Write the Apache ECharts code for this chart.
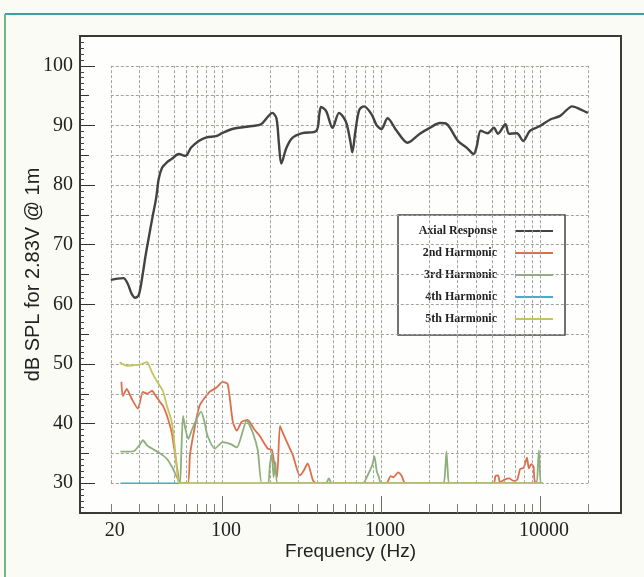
<!DOCTYPE html>
<html><head><meta charset="utf-8">
<script src="https://cdn.jsdelivr.net/npm/echarts@6/dist/echarts.min.js"></script>
<style>html,body{margin:0;padding:0;background:#fbfbf6}#c{width:644px;height:577px}</style>
</head><body><div id="c"></div>
<script>
// ---- data (frequency Hz, dB SPL) ----
const axialResponse = [[20,64.1],[22,64.3],[24,64.4],[25.5,63.5],[27,61.8],[28.5,61.1],[30,61.6],[31.5,64.5],[33,68],[34.7,71.3],[36.5,74.5],[38.6,77.9],[40,81],[42,82.9],[45,83.8],[48.4,84.4],[53.5,85.2],[59,84.9],[64,86.3],[71.5,87.4],[80,88],[91.8,88.2],[100,88.7],[116,89.4],[135,89.7],[155,89.9],[176,90.2],[195,91.5],[207,92.1],[220,91.2],[228,87],[236,83.6],[254,86.2],[277,87.9],[320,88.7],[392,89.1],[410,92],[420,93.1],[452,92.4],[496,89.6],[545,92.1],[600,90.7],[640,87.5],[660,85.5],[690,89],[730,92.6],[782,93.2],[871,91.9],[940,90],[1006,89.4],[1100,91.2],[1254,89.1],[1470,87.1],[1755,88.6],[2000,89.5],[2350,90.4],[2600,90.2],[3050,87.4],[3480,86.2],[3820,85.2],[4000,86.5],[4240,89.1],[4690,88.7],[5130,89.6],[5440,88.6],[6060,90.2],[6390,88.6],[7150,88.7],[7840,87.4],[8630,89.1],[9990,89.9],[11600,91],[13400,91.6],[15950,93.2],[17900,92.7],[20000,92.1]];
const harmonic2 = [[23.3,47],[23.8,44.6],[25.2,45.8],[27,44.2],[29.6,42.5],[31.8,45.3],[33.9,45],[36.3,45.5],[38,44.8],[40.8,43.6],[42.5,43],[45,41.4],[48.3,38.5],[50.6,35],[52.6,32],[54.5,30],[61,30],[62.9,34.7],[67,39],[72.3,43],[83.5,45.3],[92,46],[101,47],[108.7,46.6],[117,40.3],[124,38.8],[133,40.3],[145,40.6],[160,39],[172,38],[194,35.8],[206,35.6],[214,33],[222,31],[231.5,39.6],[240,38.6],[255,37],[279,34.7],[308,31.3],[325,32],[346,33.3],[373,30.5],[390,30],[1080,30],[1150,31.2],[1200,31],[1280,31.8],[1350,31.2],[1420,30],[5100,30],[5250,31.2],[5450,31.3],[5600,30.2],[6000,30.6],[6400,30.8],[6800,30.4],[7200,30.6],[7500,32.4],[7900,32.6],[8280,34.3],[8500,32.5],[8800,33.2],[9100,32.8],[9300,30.2],[10400,30]];
const harmonic3 = [[23,35.3],[25,35.3],[28,35.4],[30.5,36.5],[31.8,37.2],[33.9,36.3],[36.3,35.8],[40.8,35],[45,34.1],[49,32.5],[52,31],[54.4,30],[55.5,35],[56.9,41.3],[59,39],[61.4,37.4],[64.8,39],[70,41],[74,42],[78,40],[81,38],[90.3,35.8],[101,36.9],[112.5,36.6],[124,36],[143,40.5],[156,38.5],[168,35.5],[178,30],[195,30],[200,33],[206,35],[211,31],[217,33.5],[224,30],[450,30],[470,30.8],[490,30],[770,30],[830,31.5],[880,33],[910,34.5],[940,32],[970,31],[1000,30],[2450,30],[2530,32],[2580,35.3],[2630,32],[2700,30],[9400,30],[9700,33],[9850,35.5],[9950,33],[10100,30],[10400,30]];
const harmonic4 = [[23,30],[10400,30]];
const harmonic5 = [[22.7,50.3],[25.2,49.7],[28,49.8],[30.5,49.9],[33.9,50.3],[35,49.6],[36.3,48.6],[39,47.1],[42.5,45.5],[45,43],[48.3,40.3],[50.6,35.8],[52.6,31.3],[54,30],[10400,30]];

const seriesNames = ['Axial Response','2nd Harmonic','3rd Harmonic','4th Harmonic','5th Harmonic'];
const xTickLabels = [20, 100, 1000, 10000];
const xMinorTicks = [20,30,40,50,60,70,80,90,200,300,400,500,600,700,800,900,2000,3000,4000,5000,6000,7000,8000,9000,20000];
const xDecadeTicks = [100, 1000, 10000];
const xGridFreqs = [20,30,40,50,60,70,80,90,100,200,300,400,500,600,700,800,900,1000,2000,3000,4000,5000,6000,7000,8000,9000,10000,20000];
const yTickLabels = [30,40,50,60,70,80,90,100];
const yGridLevels = [30,35,40,45,50,55,60,65,70,75,80,85,90,95,100];

// ---- chart ----
const X_MIN = 12.8, X_MAX = 32300, Y_MIN = 25, Y_MAX = 105;
const gridLines = [];
yGridLevels.forEach(v => gridLines.push([{coord:[xGridFreqs[0], v]}, {coord:[xGridFreqs[xGridFreqs.length-1], v]}]));
xGridFreqs.forEach(f => gridLines.push([{coord:[f, yGridLevels[0]]}, {coord:[f, yGridLevels[yGridLevels.length-1]]}]));

const serif = 'Liberation Serif';
const sans = 'Liberation Sans';
const colors = ['#434343', '#dc6e4e', '#8cb07c', '#3fb0c6', '#c2c65e'];
const gridRect = {left: 80, top: 36, width: 541, height: 477};

const chart = echarts.init(document.getElementById('c'), null, {renderer: 'canvas'});
chart.setOption({
  animation: false,
  backgroundColor: '#fbfbf6',
  graphic: [
    {type: 'line', silent: true, shape: {x1: 5, y1: 14, x2: 644, y2: 14}, style: {stroke: '#3e9fa2', lineWidth: 2}},
    {type: 'line', silent: true, shape: {x1: 5, y1: 14, x2: 5, y2: 577}, style: {stroke: '#74b486', lineWidth: 2}}
  ],
  grid: [
    Object.assign({show: true, borderColor: '#3a3a36', borderWidth: 2, backgroundColor: '#fefefc'}, gridRect),
    Object.assign({show: false}, gridRect)
  ],
  xAxis: [
    {type: 'log', gridIndex: 0, min: X_MIN, max: X_MAX, position: 'bottom',
     axisLine: {show: false}, splitLine: {show: false},
     axisTick: {show: true, inside: true, length: 9, customValues: xMinorTicks, lineStyle: {color: '#7a7a72', width: 1}},
     axisLabel: {customValues: xTickLabels, margin: 8, fontFamily: serif, fontSize: 20, color: '#222',
                 padding: [0, 0, 0, 8], formatter: v => String(Math.round(v))},
     name: 'Frequency (Hz)', nameLocation: 'middle', nameGap: 29, nameMoveOverlap: false,
     nameTextStyle: {fontFamily: sans, fontSize: 19, color: '#222'}},
    {type: 'log', gridIndex: 1, min: X_MIN, max: X_MAX, position: 'bottom',
     axisLine: {show: false}, splitLine: {show: false}, axisLabel: {show: false},
     axisTick: {show: true, inside: true, length: 17, customValues: xDecadeTicks, lineStyle: {color: '#6f6f68', width: 1}}}
  ],
  yAxis: [
    {type: 'value', gridIndex: 0, min: Y_MIN, max: Y_MAX, interval: 5, position: 'left',
     axisLine: {show: false}, splitLine: {show: false},
     axisTick: {show: true, inside: true, length: 9, lineStyle: {color: '#333', width: 1}},
     minorTick: {show: true, splitNumber: 5, length: 4, lineStyle: {color: '#444', width: 1}},
     axisLabel: {margin: 7, fontFamily: serif, fontSize: 20, color: '#222',
                 formatter: v => yTickLabels.indexOf(v) >= 0 ? String(v) : ''},
     name: 'dB SPL for 2.83V @ 1m', nameLocation: 'middle', nameGap: 37, nameRotate: 90, nameMoveOverlap: false,
     nameTextStyle: {fontFamily: sans, fontSize: 20, color: '#222'}},
    {type: 'value', gridIndex: 1, min: Y_MIN, max: Y_MAX, interval: 5, position: 'left',
     axisLine: {show: false}, splitLine: {show: false}, axisLabel: {show: false},
     axisTick: {show: true, inside: true, length: 15, customValues: yTickLabels, lineStyle: {color: '#333', width: 1}}}
  ],
  legend: {
    data: seriesNames, orient: 'vertical', left: 398, top: 215,
    align: 'right', icon: 'rect', itemWidth: 38, itemHeight: 2, itemGap: 8,
    padding: [9, 12, 9, 17], backgroundColor: '#ffffff', borderColor: '#444', borderWidth: 1.5,
    textStyle: {fontFamily: serif, fontWeight: 'bold', fontSize: 12, lineHeight: 14, color: '#222', width: 82, align: 'right', padding: [0, 13, 0, 0]}
  },
  series: [
    {name: 'grid', type: 'line', data: [], z: 1, silent: true,
     markLine: {silent: true, symbol: 'none', animation: false, label: {show: false},
                lineStyle: {color: '#a3a39d', type: [3, 2], width: 1}, data: gridLines}},
    {name: seriesNames[1], type: 'line', data: harmonic2, symbol: 'none', smooth: 0.2, lineStyle: {width: 1.8, color: colors[1]}, itemStyle: {color: colors[1]}, z: 3},
    {name: seriesNames[2], type: 'line', data: harmonic3, symbol: 'none', smooth: 0.2, lineStyle: {width: 1.8, color: colors[2]}, itemStyle: {color: colors[2]}, z: 4},
    {name: seriesNames[3], type: 'line', data: harmonic4, symbol: 'none', lineStyle: {width: 1.6, color: colors[3]}, itemStyle: {color: colors[3]}, z: 5},
    {name: seriesNames[4], type: 'line', data: harmonic5, symbol: 'none', smooth: 0.2, lineStyle: {width: 1.8, color: colors[4]}, itemStyle: {color: colors[4]}, z: 6},
    {name: seriesNames[0], type: 'line', data: axialResponse, symbol: 'none', smooth: 0.3, lineStyle: {width: 2.4, color: colors[0]}, itemStyle: {color: colors[0]}, z: 7}
  ]
});
</script></body></html>
